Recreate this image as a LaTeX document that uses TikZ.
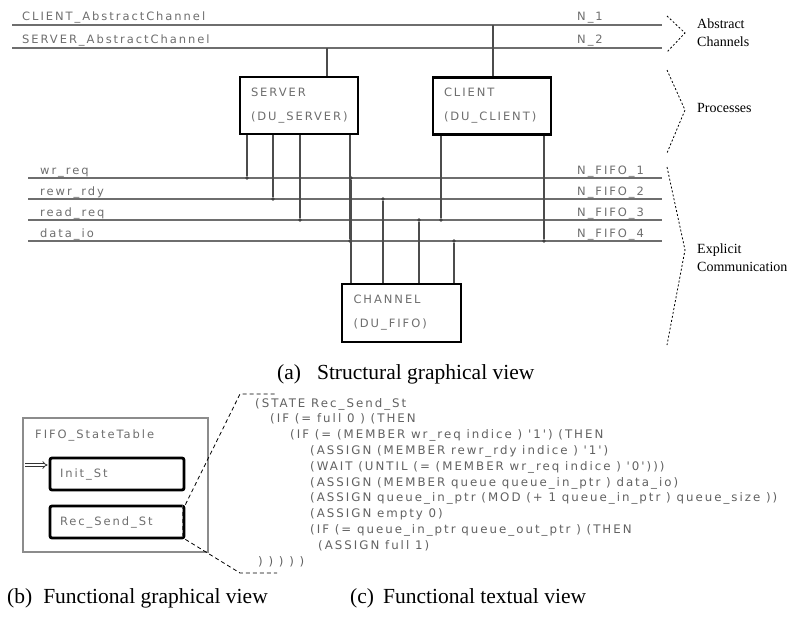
\documentclass[tikz,border=0pt]{standalone}
\usepackage{fontspec}
\setmainfont{Liberation Serif}
\newfontfamily\genfont[LetterSpace=17]{DejaVu Sans}
\usetikzlibrary{arrows.meta,positioning}
\definecolor{wiregray}{HTML}{6E6E6E}
\definecolor{labelgray}{HTML}{6E6E6E}

\begin{document}
\begin{tikzpicture}[x=1pt,y=-1pt,
  bus/.style={line width=2.6pt, wiregray},
  wire/.style={line width=1.1pt, wiregray},
  port/.style={line width=1.1pt, black!70},
  lbl/.style={font=\genfont\fontsize{11.5}{12}\selectfont, text=labelgray, inner sep=0pt, anchor=base west},
  unit/.style={draw, line width=2.2pt, fill=white, minimum height=57pt, text width=96pt, inner xsep=11pt,
    align=left, font=\genfont\fontsize{11.5}{24}\selectfont, text=labelgray},
  statebox/.style={draw, line width=2.8pt, rounded corners=2pt, minimum width=134pt, minimum height=32pt,
    text width=114pt, inner xsep=10pt, align=left, font=\genfont\fontsize{11.5}{12}\selectfont, text=labelgray},
  dot/.style={circle, fill=black!75, inner sep=0pt, minimum size=3.6pt},
  brace/.style={dash pattern=on 2pt off 2pt, line width=0.8pt},
  zoomline/.style={dash pattern=on 4pt off 3pt, line width=0.8pt},
  ann/.style={font=\fontsize{14}{18}\selectfont, align=left, anchor=west, inner sep=0pt},
  captxt/.style={font=\fontsize{21.5}{24}\selectfont, anchor=base west, inner sep=0pt},
]
  \useasboundingbox (0,0) rectangle (790,616);

  % Abstract channels
  \coordinate (cw) at (12,25);  \coordinate (ce) at (662,25);
  \coordinate (sw) at (12,48);  \coordinate (se) at (662,48);
  \draw[bus] (cw) -- (ce);
  \draw[bus] (sw) -- (se);
  \node[lbl] (cname) at (22,20) {CLIENT\_AbstractChannel};
  \node[lbl] (sname) at (22,43) {SERVER\_AbstractChannel};
  \node[lbl] (n1) at (577,20) {N\_1};
  \node[lbl] (n2) at (577,43) {N\_2};

  % FIFO nets
  \coordinate (w1) at (28,178);   \coordinate (e1) at (662,178);
  \coordinate (w2) at (28,199);   \coordinate (e2) at (662,199);
  \coordinate (w3) at (28,220);   \coordinate (e3) at (662,220);
  \coordinate (w4) at (28,241);   \coordinate (e4) at (662,241);
  \draw[wire] (w1) -- (e1);
  \draw[wire] (w2) -- (e2);
  \draw[wire] (w3) -- (e3);
  \draw[wire] (w4) -- (e4);
  \node[lbl] (wrreq) at (40,174) {wr\_req};
  \node[lbl] (rewr) at (40,195) {rewr\_rdy};
  \node[lbl] (rdreq) at (40,216) {read\_req};
  \node[lbl] (dio) at (40,237) {data\_io};
  \node[lbl] (f1) at (577,174) {N\_FIFO\_1};
  \node[lbl] (f2) at (577,195) {N\_FIFO\_2};
  \node[lbl] (f3) at (577,216) {N\_FIFO\_3};
  \node[lbl] (f4) at (577,237) {N\_FIFO\_4};

  % Processes
  \node[unit, minimum width=118pt] (srv) at (299,105.5) {SERVER\\(DU\_SERVER)};
  \node[unit, minimum width=118pt] (cli) at (492,106) {CLIENT\\(DU\_CLIENT)};
  \node[unit, minimum width=119pt, minimum height=58pt] (chn) at (401.5,313) {CHANNEL\\(DU\_FIFO)};

  \coordinate (sa) at (327,48);
  \coordinate (ka) at (493,25);
  \draw[port, line width=1.6pt] (srv.north -| sa) -- (sa);
  \draw[port, line width=1.6pt] (cli.north -| ka) -- (ka);

  \node[dot] (s1) at (247,178) {};
  \node[dot] (s2) at (273,199) {};
  \node[dot] (s3) at (300,220) {};
  \node[dot] (s4) at (350,241) {};
  \node[dot] (c1) at (351,178) {};
  \node[dot] (c2) at (383,199) {};
  \node[dot] (c3) at (419,220) {};
  \node[dot] (c4) at (454,241) {};
  \node[dot] (k1) at (441,220) {};
  \node[dot] (k2) at (544,241) {};

  \draw[port] (srv.south -| s1) -- (s1);
  \draw[port] (srv.south -| s2) -- (s2);
  \draw[port] (srv.south -| s3) -- (s3);
  \draw[port, line width=1.6pt] (srv.south -| s4) -- (s4);
  \draw[port] (chn.north -| c1) -- (c1);
  \draw[port] (chn.north -| c2) -- (c2);
  \draw[port] (chn.north -| c3) -- (c3);
  \draw[port] (chn.north -| c4) -- (c4);
  \draw[port] (cli.south -| k1) -- (k1);
  \draw[port] (cli.south -| k2) -- (k2);

  % Annotations
  \coordinate (a1) at (667,16);  \coordinate (a2) at (685,33);  \coordinate (a3) at (667,52);
  \coordinate (p1) at (667,70);  \coordinate (p2) at (685,110); \coordinate (p3) at (667,153);
  \coordinate (x1) at (667,167); \coordinate (x2) at (685,250); \coordinate (x3) at (667,345);
  \draw[brace] (a1) -- (a2) -- (a3);
  \draw[brace] (p1) -- (p2) -- (p3);
  \draw[brace] (x1) -- (x2) -- (x3);
  \node[ann] (absn) at (697,33) {Abstract\\Channels};
  \node[ann] (prcn) at (697,108) {Processes};
  \node[ann] (expn) at (697,258) {Explicit\\Communication};

  \node[captxt] (capa) at (277,379) {(a)\hspace{16pt}Structural graphical view};

  % State table
  \draw[line width=1.3pt, black!45] (23,418) rectangle (208,552);
  \node[lbl] (tbl) at (35,438) {FIFO\_StateTable};
  \node[statebox] (init) at (117,474) {Init\_St};
  \node[statebox] (rec) at (117,522) {Rec\_Send\_St};
  \coordinate (entry) at (25,465);
  \draw[double=white, double distance=1.8pt, line width=0.8pt, black!80, -{Implies[length=4pt]}] (entry) -- ([xshift=-1pt]entry -| init.west);
  \draw[zoomline, black!70] ([xshift=-3pt]rec.north east) -- ([xshift=-3pt]rec.south east);

  % Zoomed text
  \coordinate (zt) at (240,394);  \coordinate (zte) at (277,394);
  \coordinate (zb) at (240,573);  \coordinate (zbe) at (277,573);
  \draw[zoomline] (rec.north east) -- (zt) -- (zte);
  \draw[zoomline] (rec.south east) -- (zb) -- (zbe);

  \node[font=\genfont\fontsize{11.8}{15.8}\selectfont, text=black!62, align=left, anchor=north west, inner sep=0pt] (code) at (255,398)
  {(STATE Rec\_Send\_St\\
   \hspace*{15pt}(IF (= full 0 ) (THEN\\
   \hspace*{35pt}(IF (= (MEMBER wr\_req indice ) '1') (THEN\\
   \hspace*{55pt}(ASSIGN (MEMBER rewr\_rdy indice ) '1')\\
   \hspace*{55pt}(WAIT (UNTIL (= (MEMBER wr\_req indice ) '0')))\\
   \hspace*{55pt}(ASSIGN (MEMBER queue queue\_in\_ptr ) data\_io)\\
   \hspace*{55pt}(ASSIGN queue\_in\_ptr (MOD (+ 1 queue\_in\_ptr ) queue\_size ))\\
   \hspace*{55pt}(ASSIGN empty 0)\\
   \hspace*{55pt}(IF (= queue\_in\_ptr queue\_out\_ptr ) (THEN\\
   \hspace*{63pt}(ASSIGN full 1)\\
   \hspace*{3pt}) ) ) ) )};

  \node[captxt] (capb) at (7,603) {(b)\hspace{11pt}Functional graphical view};
  \node[captxt] (capc) at (350,603) {(c)\hspace{9pt}Functional textual view};
\end{tikzpicture}
\end{document}
